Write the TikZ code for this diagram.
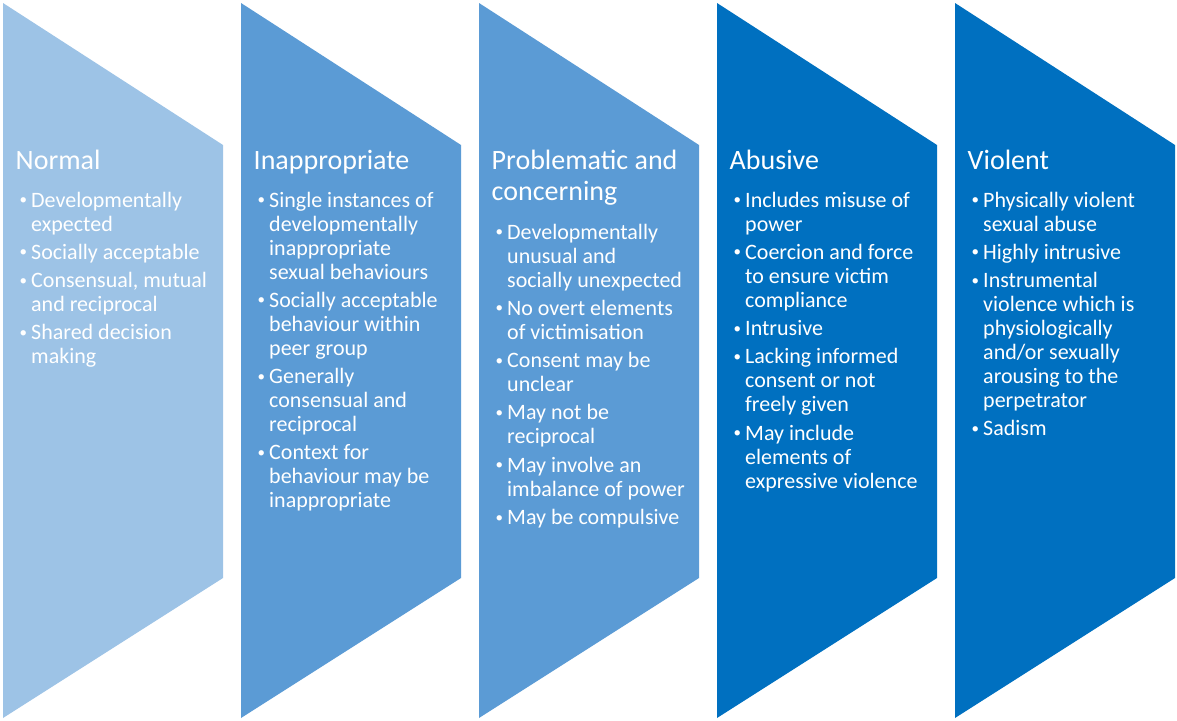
\documentclass[tikz,border=0pt]{standalone}
\usepackage{fontspec}
\setmainfont{Carlito}
\usetikzlibrary{calc}
\definecolor{paleblue}{HTML}{9DC3E6}
\definecolor{midblue}{HTML}{5B9BD5}
\definecolor{deepblue}{HTML}{0070C0}

\begin{document}
\begin{tikzpicture}[x=1pt, y=-1pt,
    head/.style={anchor=base west, inner sep=0pt, text=white, font=\fontsize{28}{31}\selectfont},
    itemline/.style={anchor=base west, inner sep=0pt, text=white, font=\fontsize{22}{24}\selectfont},
    bulletmark/.style={anchor=base west, inner sep=0pt, text=white, font=\fontsize{15}{18}\selectfont}]
    \useasboundingbox (0,0) rectangle (1177,720);
    \foreach \x/\col in {3/paleblue, 241/midblue, 479/midblue, 717/deepblue, 955/deepblue}{
      \fill[\col] (\x,3) -- ++(220,142) -- ++(0,433) -- (\x,718) -- cycle;
    }
    % titles
    \node[head] (normal) at (15.5,169) {Normal};
    \node[head] (inappropriate) at (253.5,169) {Inappropriate};
    \node[head] (problematic) at (491.5,169) {Problematic and};
    \node[head] (concerning) at (491.5,200) {concerning};
    \node[head] (abusive) at (729.5,169) {Abusive};
    \node[head] (violent) at (967.5,169) {Violent};
    % bullet lists
    \coordinate (s) at (31,178.7);
    \foreach \b/\t [count=\i] in {1/Developmentally, 0/expected, 1/Socially acceptable,
        1/{Consensual, mutual}, 0/and reciprocal, 1/Shared decision, 0/making}{
      \coordinate (s) at ($(s) + (0,24+4.3*\b)$);
      \node[itemline] (normal-\i) at (s) {\t};
      \ifnum\b=1 \node[bulletmark] (normal-\i-dot) at ($(s) + (-11.5,-2.5)$) {\textbullet}; \fi
    }
    \coordinate (s) at (269,178.7);
    \foreach \b/\t [count=\i] in {1/Single instances of, 0/developmentally, 0/inappropriate,
        0/sexual behaviours, 1/Socially acceptable, 0/behaviour within, 0/peer group,
        1/Generally, 0/consensual and, 0/reciprocal, 1/Context for, 0/behaviour may be,
        0/inappropriate}{
      \coordinate (s) at ($(s) + (0,24+4.3*\b)$);
      \node[itemline] (inappropriate-\i) at (s) {\t};
      \ifnum\b=1 \node[bulletmark] (inappropriate-\i-dot) at ($(s) + (-11.5,-2.5)$) {\textbullet}; \fi
    }
    \coordinate (s) at (507,210.7);
    \foreach \b/\t [count=\i] in {1/Developmentally, 0/unusual and, 0/socially unexpected,
        1/No overt elements, 0/of victimisation, 1/Consent may be, 0/unclear,
        1/May not be, 0/reciprocal, 1/May involve an, 0/imbalance of power,
        1/May be compulsive}{
      \coordinate (s) at ($(s) + (0,24+4.3*\b)$);
      \node[itemline] (problematic-\i) at (s) {\t};
      \ifnum\b=1 \node[bulletmark] (problematic-\i-dot) at ($(s) + (-11.5,-2.5)$) {\textbullet}; \fi
    }
    \coordinate (s) at (745,178.7);
    \foreach \b/\t [count=\i] in {1/Includes misuse of, 0/power, 1/Coercion and force,
        0/to ensure victim, 0/compliance, 1/Intrusive, 1/Lacking informed,
        0/consent or not, 0/freely given, 1/May include, 0/elements of,
        0/expressive violence}{
      \coordinate (s) at ($(s) + (0,24+4.3*\b)$);
      \node[itemline] (abusive-\i) at (s) {\t};
      \ifnum\b=1 \node[bulletmark] (abusive-\i-dot) at ($(s) + (-11.5,-2.5)$) {\textbullet}; \fi
    }
    \coordinate (s) at (983,178.7);
    \foreach \b/\t [count=\i] in {1/Physically violent, 0/sexual abuse, 1/Highly intrusive,
        1/Instrumental, 0/violence which is, 0/physiologically, 0/{and/or sexually},
        0/arousing to the, 0/perpetrator, 1/Sadism}{
      \coordinate (s) at ($(s) + (0,24+4.3*\b)$);
      \node[itemline] (violent-\i) at (s) {\t};
      \ifnum\b=1 \node[bulletmark] (violent-\i-dot) at ($(s) + (-11.5,-2.5)$) {\textbullet}; \fi
    }
  \end{tikzpicture}
\end{document}
